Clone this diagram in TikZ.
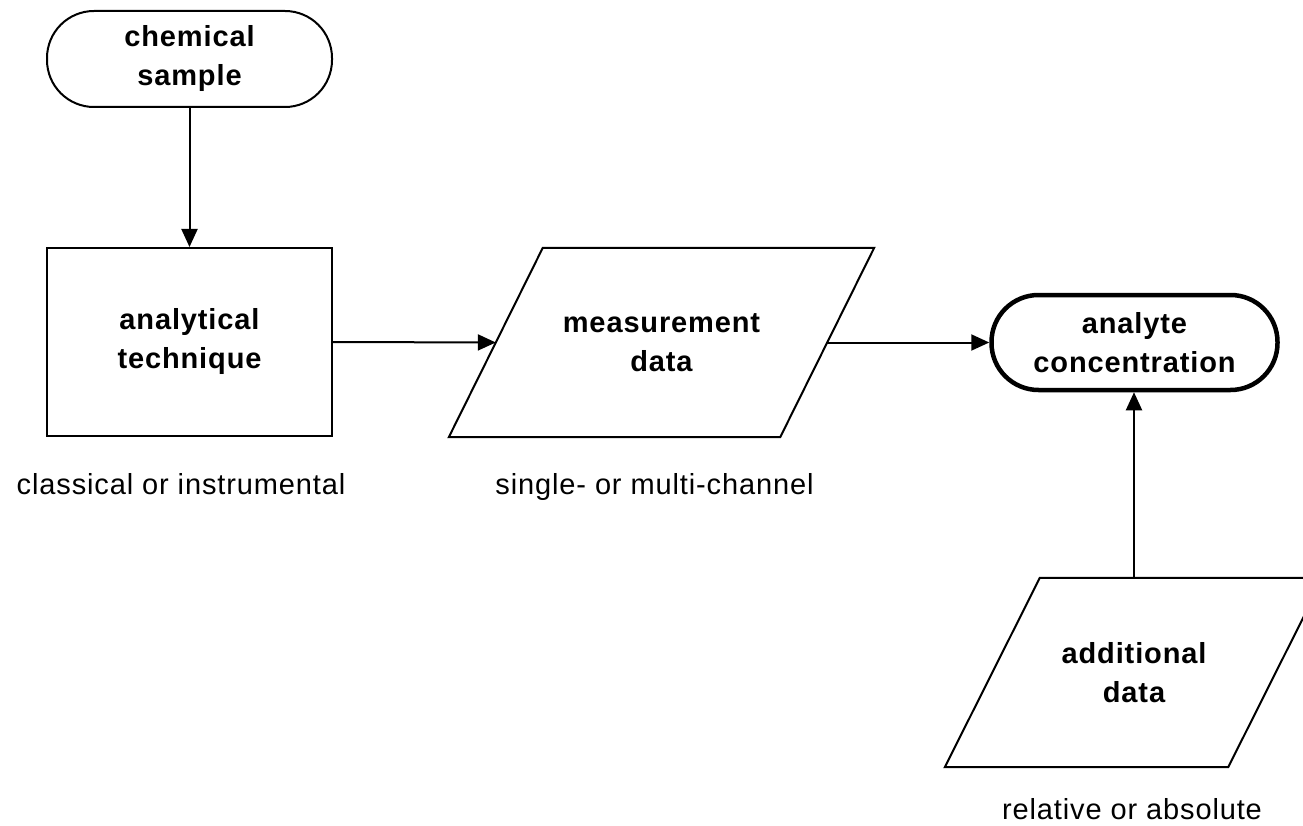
\documentclass[tikz,border=0pt]{standalone}
\usepackage{fontspec}
\setmainfont{Liberation Sans}[LetterSpace=3]
\usetikzlibrary{arrows.meta}

\tikzset{
  every node/.style={font=\fontsize{29}{39}\selectfont, align=center, inner sep=0pt},
  box/.style={font=\fontsize{29}{39}\selectfont\bfseries},
  thinline/.style={line width=2pt},
  terminal/.style={box, draw, thinline, rounded corners=47pt, minimum width=285pt, minimum height=96pt},
  result/.style={terminal, line width=4.5pt, minimum width=286pt, minimum height=95pt},
  process/.style={box, draw, thinline, minimum width=285pt, minimum height=188pt},
  % text area of a data box: its width is the width of the slanted outline at mid height
  datashape/.style={box, minimum height=189pt},
  flow/.style={thinline, -{Triangle[length=18pt,width=16pt]}}
}

\begin{document}
\begin{tikzpicture}[x=1pt, y=-1pt]
  \useasboundingbox (0,0) rectangle (1303,826);

  % boxes of the flow chart
  \node[terminal] (sample) at (189.5,59) {chemical\\sample};
  \node[process] (technique) at (189.5,342) {analytical\\technique};
  \node[datashape, minimum width=331pt] (measure) at (661.5,342.5) {measurement\\data};
  \node[result] (conc) at (1134.5,342.5) {analyte\\concentration};
  \node[datashape, minimum width=283pt] (extra) at (1134,672.5) {additional\\data};

  % slanted outlines of the two data boxes
  \draw[thinline, line join=miter]
    ([xshift=47pt]measure.north west) -- ([xshift=47pt]measure.north east)
    -- ([xshift=-47pt]measure.south east) -- ([xshift=-47pt]measure.south west) -- cycle;
  \draw[thinline, line join=miter]
    ([xshift=47.5pt]extra.north west) -- ([xshift=47.5pt]extra.north east)
    -- ([xshift=-47.5pt]extra.south east) -- ([xshift=-47.5pt]extra.south west) -- cycle;

  % notes beneath the boxes
  \node[anchor=base] (n1) at (181,494) {classical or instrumental};
  \node[anchor=base] (n2) at (654.5,494) {single- or multi-channel};
  \node[anchor=base] (n3) at (1132,819) {relative or absolute};

  % connectors
  \draw[flow] (sample.south) -- (technique.north);
  \draw[flow] (technique.east) -- (measure.west);
  \draw[flow] (measure.east) -- (conc.west);
  \draw[flow] (extra.north) -- (extra.north |- conc.south);
\end{tikzpicture}
\end{document}
